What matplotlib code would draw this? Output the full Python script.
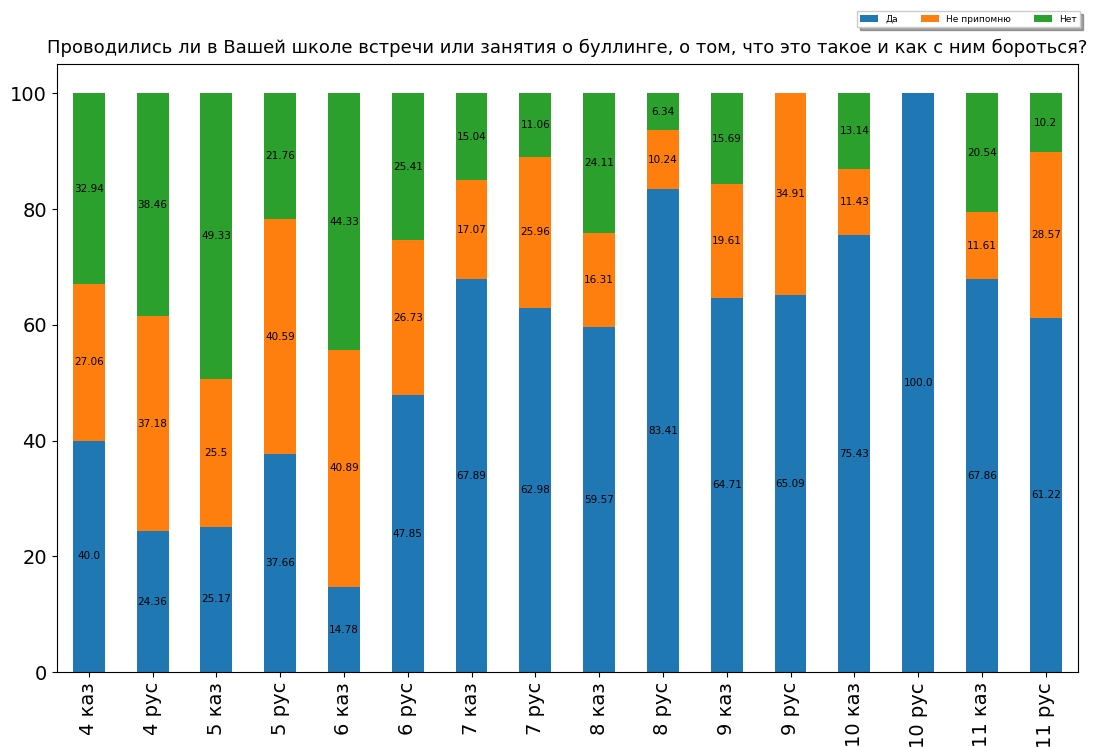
import numpy as np
import matplotlib.pyplot as plt

groups = ['4 каз', '4 рус', '5 каз', '5 рус', '6 каз', '6 рус', '7 каз', '7 рус',
          '8 каз', '8 рус', '9 каз', '9 рус', '10 каз', '10 рус', '11 каз', '11 рус']
da = [40.0, 24.36, 25.17, 37.66, 14.78, 47.85, 67.89, 62.98,
      59.57, 83.41, 64.71, 65.09, 75.43, 100.0, 67.86, 61.22]
ne_pomnyu = [27.06, 37.18, 25.5, 40.59, 40.89, 26.73, 17.07, 25.96,
             16.31, 10.24, 19.61, 34.91, 11.43, 0, 11.61, 28.57]
net = [32.94, 38.46, 49.33, 21.76, 44.33, 25.41, 15.04, 11.06,
       24.11, 6.34, 15.69, 0, 13.14, 0, 20.54, 10.2]

series = [('Да', da), ('Не припомню', ne_pomnyu), ('Нет', net)]
colors = ['#1f77b4', '#ff7f0e', '#2ca02c']

fig = plt.figure(figsize=(10.94, 7.47), dpi=100)
ax = fig.add_axes([0.052, 0.100, 0.933, 0.814])

x = np.arange(len(groups))
bottom = np.zeros(len(groups))
for (name, vals), c in zip(series, colors):
    vals = np.array(vals, dtype=float)
    bars = ax.bar(x, vals, 0.5, bottom=bottom, color=c, label=name)
    # label only non-empty segments
    ax.bar_label(bars, labels=[str(v) if v else '' for v in vals],
                 label_type='center', fontsize=7.5)
    bottom += vals

ax.set_xlim(-0.5, 15.5)
ax.set_ylim(0, 105)
ax.set_xticks(x)
ax.set_xticklabels(groups, rotation=90, fontsize=14)
ax.tick_params(axis='y', labelsize=14)
ax.set_yticks([0, 20, 40, 60, 80, 100])
ax.set_title('Проводились ли в Вашей школе встречи или занятия о буллинге, о том, что это такое и как с ним бороться?',
             fontsize=13, pad=8)
ax.legend(ncol=3, fontsize=6.5, loc='upper right', bbox_to_anchor=(1.007, 1.095),
          shadow=True, fancybox=False, columnspacing=2.5)

fig.savefig('out.png', dpi=100)
